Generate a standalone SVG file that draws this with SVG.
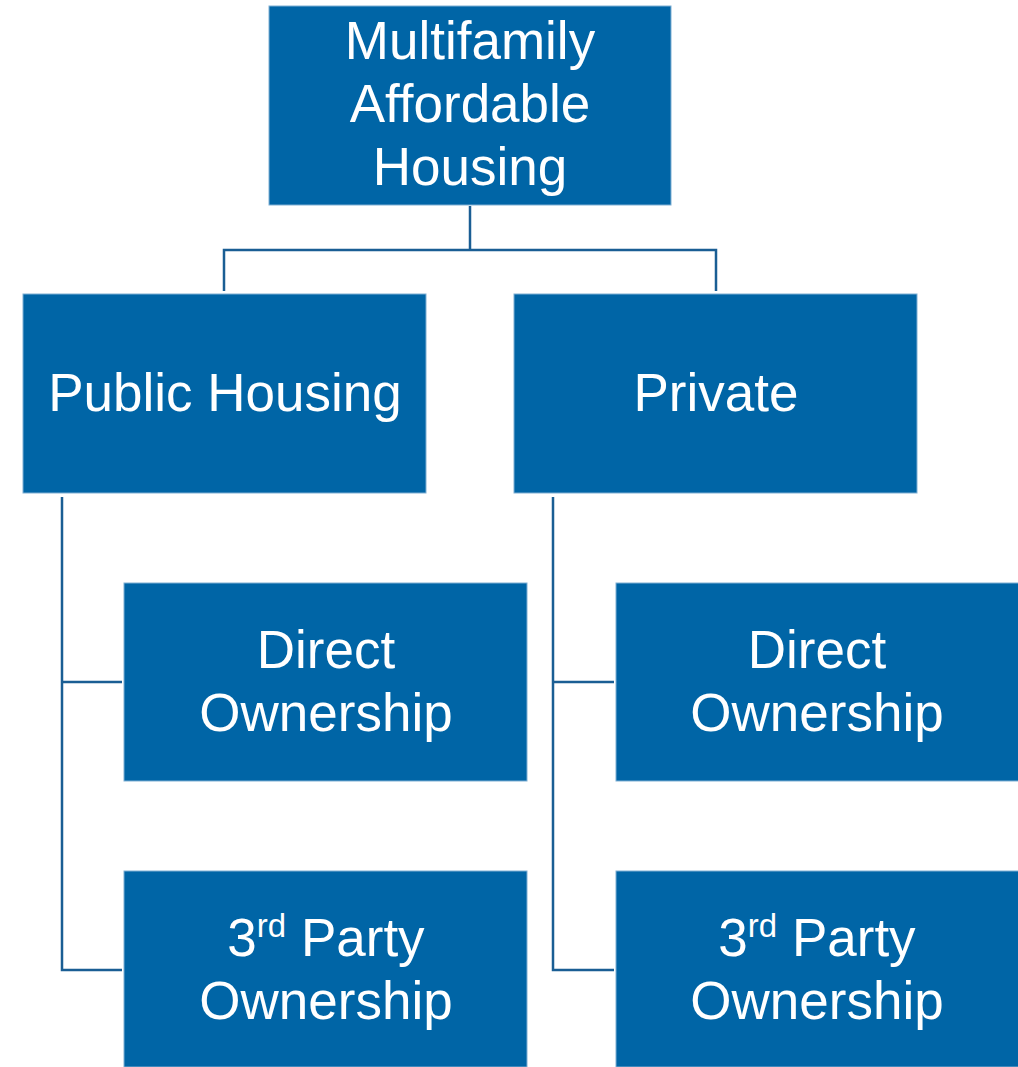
<svg xmlns="http://www.w3.org/2000/svg" width="1018" height="1067" viewBox="0 0 1018 1067">
<style>
.box{fill:#0065A6;stroke:#7FAFD3;stroke-width:1}
.t{font-family:"Liberation Sans",Arial,sans-serif;font-size:53px;fill:#ffffff;text-anchor:middle}
.c{fill:none;stroke:#1A5E94;stroke-width:2.5}
</style>
<rect width="1018" height="1067" fill="#ffffff"/>
<g id="connectors">
<polyline class="c" points="470,206 470,250"/>
<polyline class="c" points="224,291 224,250 716,250 716,291"/>
<polyline class="c" points="62,497 62,970 122,970"/>
<polyline class="c" points="62,682 122,682"/>
<polyline class="c" points="553,497 553,970 614,970"/>
<polyline class="c" points="553,682 614,682"/>
</g>
<g id="root">
<rect class="box" x="269" y="6" width="402" height="199"/>
<text class="t" x="470" y="59">Multifamily</text>
<text class="t" x="470" y="122">Affordable</text>
<text class="t" x="470" y="185">Housing</text>
</g>
<g id="public">
<rect class="box" x="23" y="294" width="403" height="199"/>
<text class="t" x="225" y="411">Public Housing</text>
</g>
<g id="private">
<rect class="box" x="514" y="294" width="403" height="199"/>
<text class="t" x="716" y="411">Private</text>
</g>
<g id="public-direct">
<rect class="box" x="124" y="583" width="403" height="198"/>
<text class="t" x="326" y="668">Direct</text>
<text class="t" x="326" y="731">Ownership</text>
</g>
<g id="public-3rd">
<rect class="box" x="124" y="871" width="403" height="196"/>
<text class="t" x="326" y="956">3<tspan font-size="33" dy="-19">rd</tspan><tspan dy="19"> Party</tspan></text>
<text class="t" x="326" y="1019">Ownership</text>
</g>
<g id="private-direct">
<rect class="box" x="616" y="583" width="403" height="198"/>
<text class="t" x="817" y="668">Direct</text>
<text class="t" x="817" y="731">Ownership</text>
</g>
<g id="private-3rd">
<rect class="box" x="616" y="871" width="403" height="196"/>
<text class="t" x="817" y="956">3<tspan font-size="33" dy="-19">rd</tspan><tspan dy="19"> Party</tspan></text>
<text class="t" x="817" y="1019">Ownership</text>
</g>
</svg>
